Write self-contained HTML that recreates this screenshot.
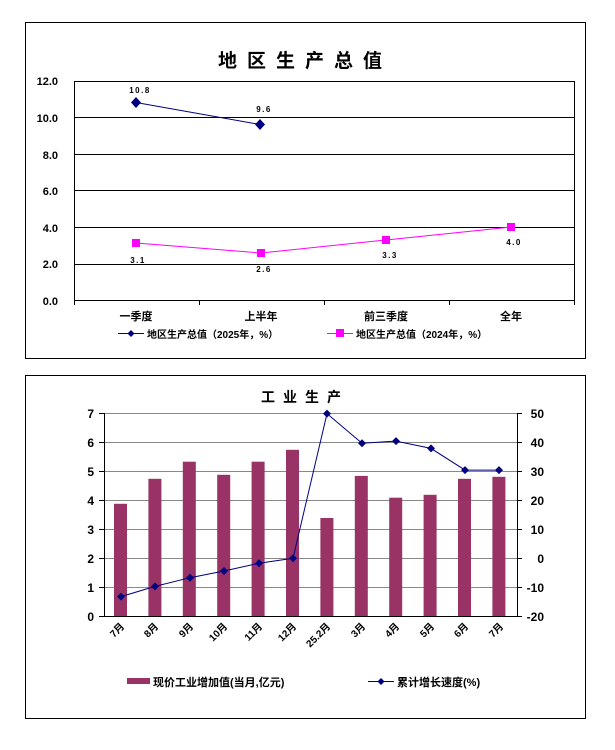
<!DOCTYPE html>
<html><head><meta charset="utf-8"><style>
body{margin:0;background:#fff}
svg text{font-family:"Liberation Sans","Noto Sans CJK SC",sans-serif;font-weight:bold}
</style></head><body>
<svg width="615" height="745" xmlns="http://www.w3.org/2000/svg">
<rect width="615" height="745" fill="#fff"/>
<!-- Chart 1 -->
<rect x="25.5" y="22.5" width="560" height="336" fill="none" stroke="#000" stroke-width="1"/>
<text x="305" y="67" font-size="19" text-anchor="middle" letter-spacing="10">地区生产总值</text>
<g stroke="#000" stroke-width="1">
<rect x="74.5" y="81.5" width="500" height="219" fill="none"/>
<line x1="74" y1="117.5" x2="574" y2="117.5"/>
<line x1="74" y1="154.5" x2="574" y2="154.5"/>
<line x1="74" y1="190.5" x2="574" y2="190.5"/>
<line x1="74" y1="227.5" x2="574" y2="227.5"/>
<line x1="74" y1="264.5" x2="574" y2="264.5"/>
<line x1="199.5" y1="300" x2="199.5" y2="305"/>
<line x1="324.5" y1="300" x2="324.5" y2="305"/>
<line x1="449.5" y1="300" x2="449.5" y2="305"/>
<line x1="574.5" y1="300" x2="574.5" y2="305"/>
<line x1="74.5" y1="300" x2="74.5" y2="305"/>
</g>
<g font-size="11" text-anchor="end">
<text x="58" y="85">12.0</text><text x="58" y="122">10.0</text><text x="58" y="159">8.0</text>
<text x="58" y="195">6.0</text><text x="58" y="232">4.0</text><text x="58" y="268">2.0</text><text x="58" y="305">0.0</text>
</g>
<g font-size="11" text-anchor="middle">
<text x="136" y="320">一季度</text><text x="261" y="320">上半年</text><text x="386" y="320">前三季度</text><text x="511" y="320">全年</text>
</g>
<polyline points="136,102.5 260,124.5" fill="none" stroke="#000080" stroke-width="1"/>
<path d="M136,97 l5,5.5 -5,5.5 -5,-5.5z M260,119 l5,5.5 -5,5.5 -5,-5.5z" fill="#000080"/>
<polyline points="136,243 261,253 386,240 511,227" fill="none" stroke="#ff00ff" stroke-width="1"/>
<g fill="#ff00ff"><rect x="132" y="239" width="8" height="8"/><rect x="257" y="249" width="8" height="8"/><rect x="382" y="236" width="8" height="8"/><rect x="507" y="223" width="8" height="8"/></g>
<g font-size="8" text-anchor="middle" letter-spacing="1.5">
<text x="140" y="93">10.8</text><text x="264" y="112">9.6</text>
<text x="138" y="263">3.1</text><text x="264" y="272">2.6</text><text x="390" y="258">3.3</text><text x="514" y="245">4.0</text>
</g>
<line x1="118" y1="333.5" x2="144" y2="333.5" stroke="#000080"/>
<path d="M131,330 l3.5,3.5 -3.5,3.5 -3.5,-3.5z" fill="#000080"/>
<text x="147" y="338" font-size="10">地区生产总值（2025年，%）</text>
<line x1="327" y1="333.5" x2="353" y2="333.5" stroke="#ff00ff"/>
<rect x="336" y="329" width="8" height="8" fill="#ff00ff"/>
<text x="356" y="338" font-size="10">地区生产总值（2024年，%）</text>

<!-- Chart 2 -->
<rect x="25.5" y="375.5" width="560" height="343" fill="none" stroke="#000" stroke-width="1"/>
<text x="305" y="402" font-size="14" text-anchor="middle" letter-spacing="8">工业生产</text>
<g stroke="#888" stroke-width="1">
<line x1="104" y1="442.5" x2="517" y2="442.5"/><line x1="104" y1="471.5" x2="517" y2="471.5"/>
<line x1="104" y1="500.5" x2="517" y2="500.5"/><line x1="104" y1="529.5" x2="517" y2="529.5"/>
<line x1="104" y1="558.5" x2="517" y2="558.5"/><line x1="104" y1="587.5" x2="517" y2="587.5"/>
</g>
<line x1="104" y1="413.5" x2="517" y2="413.5" stroke="#888"/>
<g fill="#993366">
<rect x="114" y="503.8" width="13" height="112.2"/>
<rect x="148.4" y="478.8" width="13" height="137.2"/>
<rect x="182.8" y="461.7" width="13" height="154.3"/>
<rect x="217.2" y="474.8" width="13" height="141.2"/>
<rect x="251.6" y="461.7" width="13" height="154.3"/>
<rect x="286" y="449.8" width="13" height="166.2"/>
<rect x="320.4" y="518" width="13" height="98"/>
<rect x="354.8" y="475.9" width="13" height="140.1"/>
<rect x="389.2" y="497.7" width="13" height="118.3"/>
<rect x="423.6" y="494.8" width="13" height="121.2"/>
<rect x="458" y="478.8" width="13" height="137.2"/>
<rect x="492.4" y="476.8" width="13" height="139.2"/>
</g>
<g stroke="#000" stroke-width="1">
<line x1="104.5" y1="413" x2="104.5" y2="616"/>
<line x1="517.5" y1="413" x2="517.5" y2="616"/>
<line x1="104" y1="616.5" x2="517" y2="616.5"/>
<line x1="99" y1="413.5" x2="104" y2="413.5"/><line x1="99" y1="442.5" x2="104" y2="442.5"/><line x1="99" y1="471.5" x2="104" y2="471.5"/><line x1="99" y1="500.5" x2="104" y2="500.5"/><line x1="99" y1="529.5" x2="104" y2="529.5"/><line x1="99" y1="558.5" x2="104" y2="558.5"/><line x1="99" y1="587.5" x2="104" y2="587.5"/><line x1="99" y1="616.5" x2="104" y2="616.5"/>
<line x1="517" y1="413.5" x2="522" y2="413.5"/><line x1="517" y1="442.5" x2="522" y2="442.5"/><line x1="517" y1="471.5" x2="522" y2="471.5"/><line x1="517" y1="500.5" x2="522" y2="500.5"/><line x1="517" y1="529.5" x2="522" y2="529.5"/><line x1="517" y1="558.5" x2="522" y2="558.5"/><line x1="517" y1="587.5" x2="522" y2="587.5"/><line x1="517" y1="616.5" x2="522" y2="616.5"/>
</g>
<g font-size="12" text-anchor="end">
<text x="94" y="418">7</text><text x="94" y="447">6</text><text x="94" y="476">5</text><text x="94" y="505">4</text><text x="94" y="534">3</text><text x="94" y="563">2</text><text x="94" y="592">1</text><text x="94" y="621">0</text>
</g>
<g font-size="12" text-anchor="end">
<text x="544" y="418">50</text><text x="544" y="447">40</text><text x="544" y="476">30</text><text x="544" y="505">20</text><text x="544" y="534">10</text><text x="544" y="563">0</text><text x="544" y="592">-10</text><text x="544" y="621">-20</text>
</g>
<g font-size="10" text-anchor="end">
<text transform="translate(125,627) rotate(-45)">7月</text>
<text transform="translate(159,627) rotate(-45)">8月</text>
<text transform="translate(194,627) rotate(-45)">9月</text>
<text transform="translate(228,627) rotate(-45)">10月</text>
<text transform="translate(263,627) rotate(-45)">11月</text>
<text transform="translate(297,627) rotate(-45)">12月</text>
<text transform="translate(331,627) rotate(-45)">25.2月</text>
<text transform="translate(366,627) rotate(-45)">3月</text>
<text transform="translate(400,627) rotate(-45)">4月</text>
<text transform="translate(435,627) rotate(-45)">5月</text>
<text transform="translate(469,627) rotate(-45)">6月</text>
<text transform="translate(504,627) rotate(-45)">7月</text>
</g>
<polyline fill="none" stroke="#000080" stroke-width="1" points="121,596.6 155,586.4 190,577.7 224,571 259,563.2 293,558.3 327,413.6 362,443.2 396,441.1 431,448.4 465,470.1 499,470.1"/>
<g fill="#000080">
<path d="M121,592.6l4,4-4,4-4,-4z M155,582.4l4,4-4,4-4,-4z M190,573.7l4,4-4,4-4,-4z M224,567l4,4-4,4-4,-4z M259,559.2l4,4-4,4-4,-4z M293,554.3l4,4-4,4-4,-4z M327,409.6l4,4-4,4-4,-4z M362,439.2l4,4-4,4-4,-4z M396,437.1l4,4-4,4-4,-4z M431,444.4l4,4-4,4-4,-4z M465,466.1l4,4-4,4-4,-4z M499,466.1l4,4-4,4-4,-4z"/>
</g>
<rect x="127" y="678" width="23" height="6" fill="#993366"/>
<text x="153" y="686" font-size="11">现价工业增加值(当月,亿元)</text>
<line x1="368" y1="681.5" x2="394" y2="681.5" stroke="#000080"/>
<path d="M381,678l3.5,3.5-3.5,3.5-3.5,-3.5z" fill="#000080"/>
<text x="397" y="686" font-size="11">累计增长速度(%)</text>
</svg>
</body></html>
